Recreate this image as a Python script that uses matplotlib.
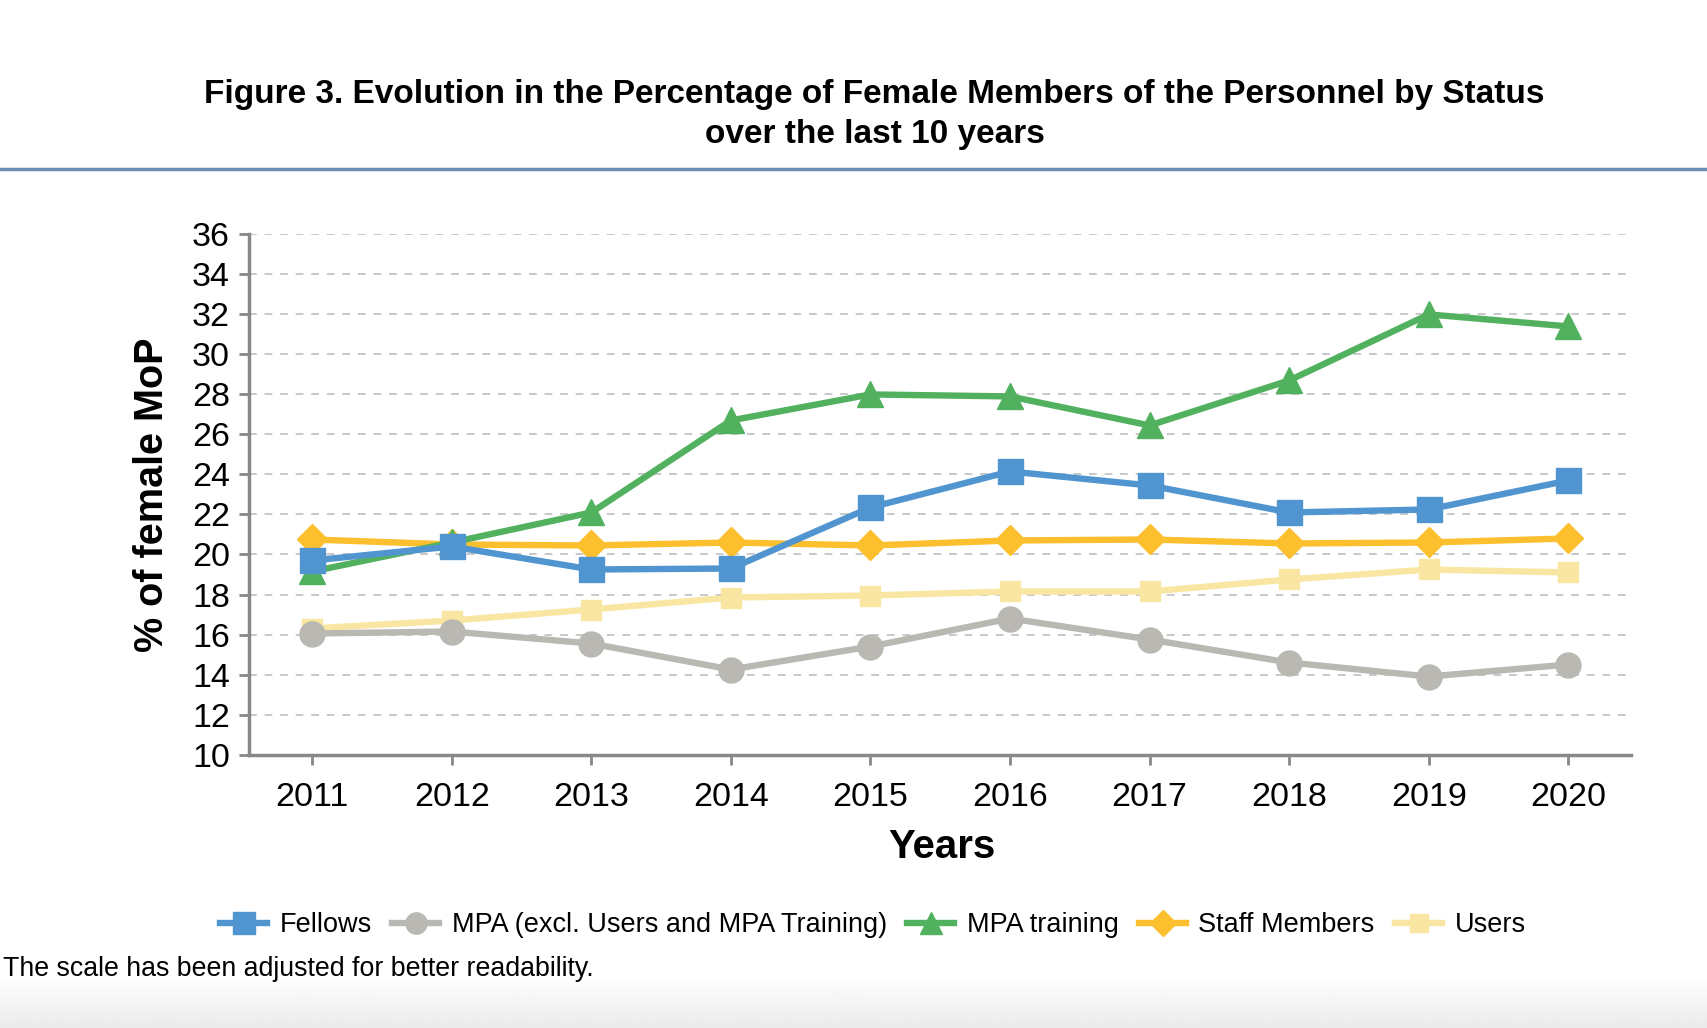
import numpy as np
import matplotlib
matplotlib.use("Agg")
import matplotlib.pyplot as plt
from matplotlib.lines import Line2D

plt.rcParams['font.family'] = ['Liberation Sans', 'DejaVu Sans']

years = ["2011", "2012", "2013", "2014", "2015", "2016", "2017", "2018", "2019", "2020"]
fellows = [19.7, 20.4, 19.25, 19.3, 22.35, 24.15, 23.45, 22.1, 22.25, 23.7]
mpa_excl = [16.05, 16.15, 15.55, 14.25, 15.4, 16.8, 15.75, 14.6, 13.9, 14.5]
mpa_training = [19.15, 20.6, 22.1, 26.7, 28.0, 27.9, 26.45, 28.7, 32.0, 31.4]
staff = [20.75, 20.5, 20.45, 20.6, 20.45, 20.7, 20.75, 20.55, 20.6, 20.8]
users = [16.3, 16.7, 17.25, 17.85, 17.95, 18.15, 18.15, 18.75, 19.25, 19.1]
yticks = [10, 12, 14, 16, 18, 20, 22, 24, 26, 28, 30, 32, 34, 36]

fig = plt.figure(figsize=(17.08, 10.28), dpi=100)
ax = fig.add_axes([0.146, 0.266, 0.809, 0.506])

x = np.arange(len(years))
lw = 4.6
# draw order: users, mpa, staff, fellows, training on top
ax.plot(x, users, color="#f8e6a2", lw=lw, marker="s", ms=15, label="Users", zorder=3)
ax.plot(x, mpa_excl, color="#bab8b3", lw=lw, marker="o", ms=18,
        label="MPA (excl. Users and MPA Training)", zorder=3)
ax.plot(x, staff, color="#fcbf2e", lw=lw, marker="D", ms=15, label="Staff Members", zorder=4)
ax.plot(x, mpa_training, color="#52b15f", lw=lw, marker="^", ms=19, label="MPA training", zorder=5)
ax.plot(x, fellows, color="#5095cf", lw=lw, marker="s", ms=18, label="Fellows", zorder=6)

ax.set_xlim(-0.45, 9.45)
ax.set_ylim(10, 36)
ax.set_yticks(yticks)
ax.set_xticks(x)
ax.set_xticklabels(years)
ax.tick_params(axis="both", labelsize=24.5, color="#888888", length=7, width=2, pad=7)
ax.tick_params(axis="x", pad=13)
ax.grid(axis="y", ls=(0, (4, 4)), color="#c8c8c8", lw=1.4)
ax.set_axisbelow(True)
for s in ["top", "right"]:
    ax.spines[s].set_visible(False)
for s in ["left", "bottom"]:
    ax.spines[s].set_color("#888888")
    ax.spines[s].set_linewidth(2.5)

fig.text(0.512, 1 - 95 / 1028, "Figure 3. Evolution in the Percentage of Female Members of the Personnel by Status",
         ha="center", va="center", fontsize=24, fontweight="bold")
fig.text(0.512, 1 - 135 / 1028, "over the last 10 years",
         ha="center", va="center", fontsize=24, fontweight="bold")
fig.add_artist(Line2D([0, 1], [0.836, 0.836], color="#6a8db5", lw=2.5, transform=fig.transFigure))

fig.text(0.089, 0.519, "% of female MoP", rotation=90, ha="center", va="center",
         fontsize=28.5, fontweight="bold")
fig.text(0.5515, 1 - 847 / 1028, "Years", ha="center", va="center", fontsize=29, fontweight="bold")

h, l = ax.get_legend_handles_labels()
order = ["Fellows", "MPA (excl. Users and MPA Training)", "MPA training", "Staff Members", "Users"]
hs = [h[l.index(o)] for o in order]
fig.legend(hs, order, loc="center", bbox_to_anchor=(0.511, 1 - 925 / 1028), ncol=5, frameon=False,
           fontsize=19.5, handlelength=1.75, columnspacing=0.75, handletextpad=0.45, markerscale=0.85)

fig.text(0.002, 1 - 969 / 1028, "The scale has been adjusted for better readability.",
         ha="left", va="center", fontsize=19.3)

# faint gray fade at the bottom edge
gax = fig.add_axes([0, 0, 1, 0.05], zorder=-1)
grad = np.linspace(1.0, 0.92, 50).reshape(-1, 1)
gax.imshow(grad, aspect="auto", cmap="gray", vmin=0, vmax=1, extent=[0, 1, 1, 0])
gax.axis("off")

fig.savefig("out.png", dpi=100)
